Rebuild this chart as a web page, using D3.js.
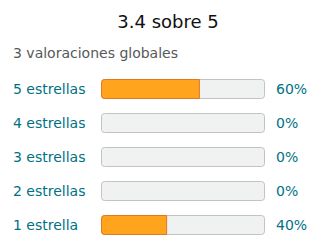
<!DOCTYPE html>
<html>
<head>
<meta charset="utf-8">
<script src="https://cdn.jsdelivr.net/npm/d3@7"></script>
<style>
  body { margin: 0; background: #fff; }
  text { font-family: "DejaVu Sans", sans-serif; }
</style>
</head>
<body>
<div id="chart"></div>
<script>
// Rating summary data
const titleText = "3.4 sobre 5";
const subtitleText = "3 valoraciones globales";
const starLabels = ["5 estrellas", "4 estrellas", "3 estrellas", "2 estrellas", "1 estrella"];
const percentages = [60, 0, 0, 0, 40];

const width = 320, height = 252;

const svg = d3.select("#chart")
    .append("svg")
    .attr("width", width)
    .attr("height", height);

// Title + subtitle
svg.append("text")
    .attr("x", 168)
    .attr("y", 28)
    .attr("text-anchor", "middle")
    .style("font-size", "18px")
    .attr("fill", "#0f1111")
    .text(titleText);

svg.append("text")
    .attr("x", 13)
    .attr("y", 58)
    .style("font-size", "14px")
    .attr("fill", "#565959")
    .text(subtitleText);

// Scales
const x = d3.scaleLinear().domain([0, 100]).range([101, 265]);
const y = d3.scaleBand()
    .domain(starLabels)
    .range([79 - 7, 79 - 7 + 34 * starLabels.length])
    .paddingInner(14 / 34)
    .paddingOuter(7 / 34);

const barH = y.bandwidth();
const rows = svg.selectAll("g.row")
    .data(starLabels.map((label, i) => ({ label, pct: percentages[i] })))
    .enter().append("g")
    .attr("class", "row")
    .attr("transform", d => `translate(0, ${y(d.label)})`);

// Label
rows.append("text")
    .attr("x", 13)
    .attr("y", barH / 2 + 5)
    .style("font-size", "14px")
    .attr("fill", "#007185")
    .text(d => d.label);

// Background track
rows.append("rect")
    .attr("x", x(0) + 0.5)
    .attr("y", 0.5)
    .attr("width", x(100) - x(0) - 1)
    .attr("height", barH - 1)
    .attr("rx", 3)
    .attr("fill", "#f0f2f2")
    .attr("stroke", "#c3c3c3");

// Filled portion: rounded on the left, square on the right
function fillPath(w, h, r) {
    const p = d3.path();
    p.moveTo(r, 0);
    p.lineTo(w, 0);
    p.lineTo(w, h);
    p.lineTo(r, h);
    p.arcTo(0, h, 0, h - r, r);
    p.lineTo(0, r);
    p.arcTo(0, 0, r, 0, r);
    p.closePath();
    return p.toString();
}

rows.filter(d => d.pct > 0)
    .append("path")
    .attr("transform", `translate(${x(0) + 0.5}, 0.5)`)
    .attr("d", d => fillPath(x(d.pct) - x(0) - 0.5, barH - 1, 3))
    .attr("fill", "#ffa41c")
    .attr("stroke", "#de7921");

// Percentage
rows.append("text")
    .attr("x", 276)
    .attr("y", barH / 2 + 5)
    .style("font-size", "14px")
    .attr("fill", "#007185")
    .text(d => d.pct + "%");
</script>
</body>
</html>
